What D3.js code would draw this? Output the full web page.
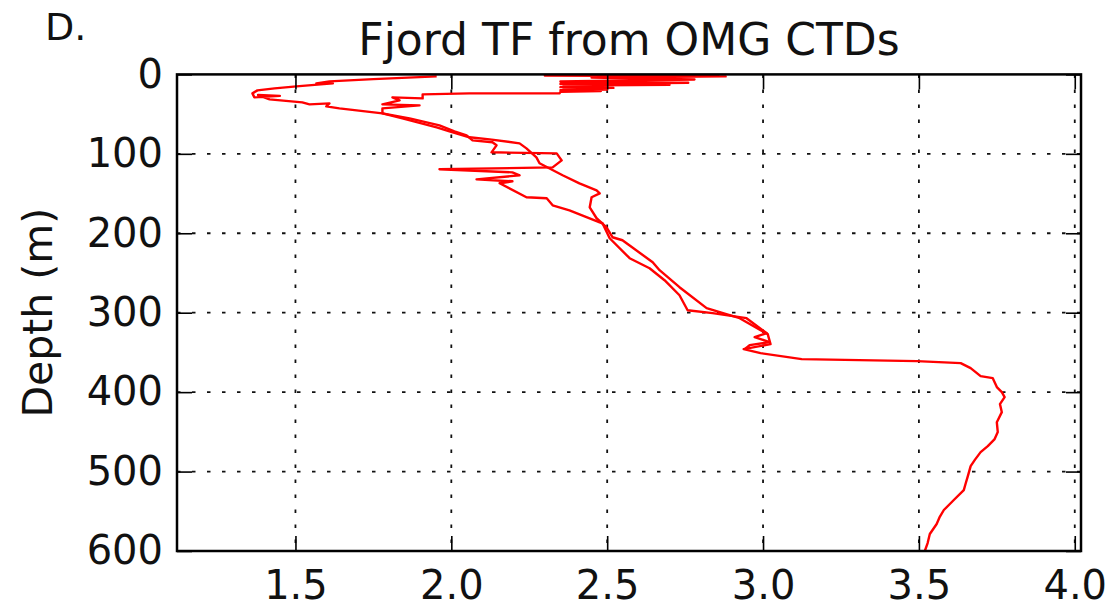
<!DOCTYPE html>
<html><head>
<meta charset="utf-8">
<script src="https://d3js.org/d3.v7.min.js"></script>
<style>
  body { margin: 0; background: #fff; }
  text { font-family: "DejaVu Sans", sans-serif; fill: #111; }
  .frame { fill: none; stroke: #000; stroke-width: 2.5px; }
  .grid line { stroke: #111; stroke-width: 1.8px; stroke-dasharray: 3.5,11.5; }
  .ctd { fill: none; stroke: #ff0000; stroke-width: 2.4px; stroke-linejoin: round; }
</style>
</head>
<body>
<svg id="chart" width="1106" height="611"></svg>
<script>

// CTD casts: [thermal forcing (C), depth (m)]
// cast with warm surface water, ends near 345 m
var castA = [
  [2.86,1.0],[2.30,1.5],[2.88,2.5],[2.45,4.0],[2.78,6.5],[2.35,9.0],[2.76,10.5],[2.35,12.0],
  [2.70,13.0],[2.36,14.0],[2.50,15.0],[2.35,16.0],[2.52,17.0],[2.36,18.0],[2.50,19.0],
  [2.35,20.0],[2.48,21.0],[2.35,22.0],[2.347,23.9],[2.058,23.9],[1.908,25.2],[1.908,30.2],
  [1.811,28.9],[1.834,32.7],[1.779,37.7],[1.898,39.0],[1.779,42.8],[1.779,49.1],[1.866,55.3],
  [1.962,64.2],[2.010,71.7],[2.049,76.7],[2.068,83.0],[2.132,85.5],[2.145,89.3],[2.129,98.1],
  [2.338,99.4],[2.354,108.2],[2.325,117.0],[1.962,119.5],[2.196,123.3],[2.219,127.0],
  [2.081,132.1],[2.196,134.6],[2.155,137.1],[2.241,154.7],[2.306,156.0],[2.325,164.8],
  [2.379,171.1],[2.476,186.2],[2.485,187.4],[2.508,206.3],[2.572,231.4],[2.636,244.0],
  [2.684,259.1],[2.732,278.0],[2.758,296.9],[2.838,300.6],[2.947,306.9],[3.012,325.8],
  [2.973,330.8],[3.021,337.1],[2.957,340.9],[2.941,345.9]
];

// cast with cold surface water, reaches 600 m
var castB = [
  [1.953,2.5],[1.750,6.0],[1.609,8.8],[1.567,11.3],[1.620,11.3],[1.503,15.1],[1.433,17.6],
  [1.378,20.1],[1.362,23.9],[1.368,28.9],[1.450,27.0],[1.380,26.0],[1.417,31.4],[1.522,35.2],
  [1.545,37.7],[1.609,36.5],[1.599,40.3],[1.641,42.8],[1.779,49.1],[1.843,55.3],[1.953,66.7],
  [1.994,71.7],[2.058,79.2],[2.123,81.8],[2.219,86.8],[2.241,93.1],[2.273,104.4],[2.283,111.9],
  [2.357,127.0],[2.411,137.1],[2.466,145.9],[2.476,149.7],[2.450,154.7],[2.444,167.3],
  [2.466,181.1],[2.498,192.5],[2.517,205.0],[2.549,208.8],[2.646,236.5],[2.668,246.5],
  [2.732,267.9],[2.819,294.3],[2.861,299.4],[2.925,306.9],[3.015,327.0],[3.024,339.6],
  [2.938,345.9],[2.992,350.9],[3.124,358.5],[3.493,361.0],[3.634,363.5],[3.666,369.8],
  [3.698,379.9],[3.737,382.4],[3.750,393.6],[3.766,400.0],[3.775,406.3],[3.760,415.0],
  [3.766,425.2],[3.750,438.0],[3.753,450.3],[3.743,459.1],[3.721,467.9],[3.698,475.5],
  [3.680,485.0],[3.666,493.1],[3.657,505.7],[3.650,515.0],[3.644,523.3],[3.612,535.8],
  [3.580,548.4],[3.567,557.0],[3.557,566.0],[3.535,578.6],[3.528,590.0],[3.519,600.0]
];

var xTicks = [1.5, 2.0, 2.5, 3.0, 3.5, 4.0];
var yTicks = [0, 100, 200, 300, 400, 500, 600];
var xDomain = [1.12, 4.02];
var yDomain = [0, 600];

var svg = d3.select("#chart");

// plot box in pixels
var pL = 177, pR = 1081, pT = 74.4, pB = 551;

var x = d3.scaleLinear().domain(xDomain).range([pL, pR]);
var y = d3.scaleLinear().domain(yDomain).range([pT, pB]);

svg.append("defs").append("clipPath").attr("id", "plotclip")
  .append("rect")
  .attr("x", pL).attr("y", pT)
  .attr("width", pR - pL).attr("height", pB - pT);

// dotted grid
var grid = svg.append("g").attr("class", "grid");
grid.selectAll(".gx").data(xTicks).enter().append("line")
  .attr("x1", d => x(d)).attr("x2", d => x(d))
  .attr("y1", pT).attr("y2", pB);
grid.selectAll(".gy").data(yTicks.slice(1, -1)).enter().append("line")
  .attr("x1", pL).attr("x2", pR)
  .attr("y1", d => y(d)).attr("y2", d => y(d));

// the casts
var line = d3.line().x(d => x(d[0])).y(d => y(d[1]));
svg.append("g").attr("clip-path", "url(#plotclip)")
  .selectAll("path").data([castA, castB]).enter().append("path")
  .attr("class", "ctd")
  .attr("d", line);

// axes, ticks pointing inward like old matplotlib
function styleAxis(g) {
  g.select(".domain").remove();
  g.selectAll(".tick line").attr("stroke", "#000").attr("stroke-width", 1.6);
  g.selectAll(".tick text").attr("font-size", 40).attr("fill", "#111");
}

svg.append("g").attr("transform", "translate(0," + pB + ")")
  .call(d3.axisBottom(x).tickValues(xTicks).tickFormat(d3.format(".1f")).tickSize(-15).tickPadding(20))
  .call(styleAxis);
svg.append("g").attr("transform", "translate(0," + pT + ")")
  .call(d3.axisTop(x).tickValues(xTicks).tickFormat("").tickSize(-15))
  .call(styleAxis);
svg.append("g").attr("transform", "translate(" + pL + ",0)")
  .call(d3.axisLeft(y).tickValues(yTicks).tickFormat(d3.format("d")).tickSize(-15).tickPadding(14))
  .call(styleAxis);
svg.append("g").attr("transform", "translate(" + pR + ",0)")
  .call(d3.axisRight(y).tickValues(yTicks).tickFormat("").tickSize(-15))
  .call(styleAxis);

svg.append("rect").attr("class", "frame")
  .attr("x", pL).attr("y", pT)
  .attr("width", pR - pL).attr("height", pB - pT);

// labels
svg.append("text")
  .attr("x", (pL + pR) / 2).attr("y", 55)
  .attr("text-anchor", "middle").attr("font-size", 44)
  .text("Fjord TF from OMG CTDs");

svg.append("text")
  .attr("transform", "translate(52," + (pT + pB) / 2 + ") rotate(-90)")
  .attr("text-anchor", "middle").attr("font-size", 41)
  .text("Depth (m)");

svg.append("text")
  .attr("x", 45).attr("y", 40).attr("font-size", 38)
  .text("D.");

</script>
</body>
</html>
